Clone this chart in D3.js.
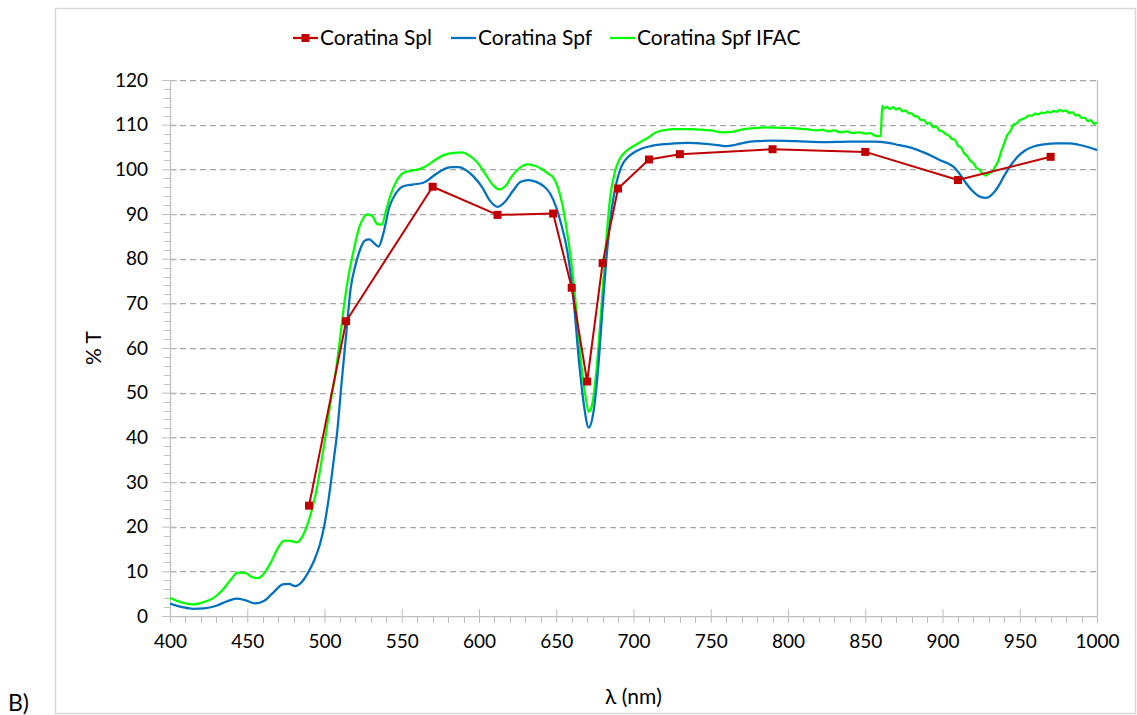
<!DOCTYPE html>
<html>
<head>
<meta charset="utf-8">
<script src="https://cdn.jsdelivr.net/npm/d3@7"></script>
<style>
  html, body { margin: 0; padding: 0; background: #fff; }
  svg { display: block; }
  text { font-family: Lato, "Open Sans", sans-serif; fill: #000; }
</style>
</head>
<body>
<svg id="chart" width="1137" height="715"></svg>
<script>
// Coratina Spl — discrete measurements
const splWavelength = [490, 514, 570, 612, 648, 660, 670, 680, 690, 710, 730, 790, 850, 910, 970];
const splT = [24.7, 66.0, 96.1, 89.8, 90.1, 73.5, 52.5, 79.0, 95.7, 102.2, 103.4, 104.5, 103.9, 97.6, 102.8];

// Coratina Spf — continuous spectrum
const spfWavelength = [400, 408, 415, 422, 430, 437, 443, 449, 455, 461, 467, 473, 477, 481, 485, 489, 493, 497, 500, 503,
  506, 508, 511, 514, 517, 520, 523, 526, 529, 532, 535, 538, 542, 546, 551, 557, 564, 570, 576, 582,
  587, 592, 597, 602, 607, 612, 617, 622, 627, 632, 637, 642, 646, 650, 653, 657, 661, 665, 668, 671,
  674, 677, 680, 683, 686, 689, 692, 696, 700, 705, 711, 718, 726, 735, 747, 755, 760, 766, 772, 780,
  790, 805, 823, 840, 855, 865, 872, 880, 887, 893, 898, 903, 907, 911, 915, 919, 923, 928, 933, 937,
  940, 944, 948, 953, 959, 966, 974, 982, 988, 994, 1000];
const spfT = [2.8, 2.0, 1.6, 1.7, 2.3, 3.3, 3.9, 3.5, 2.8, 3.4, 5.3, 7.1, 7.2, 6.7, 7.5, 9.5, 12.2, 16.0, 20.5, 27.0,
  35.0, 40.5, 52.0, 63.0, 73.5, 78.5, 82.0, 84.0, 84.3, 83.5, 82.7, 85.5, 91.6, 94.5, 96.2, 96.6, 97.0, 98.4, 99.8, 100.5,
  100.5, 99.7, 98.2, 96.0, 93.0, 91.6, 92.8, 95.2, 97.2, 97.6, 97.2, 96.2, 94.6, 91.5, 88.0, 82.0, 71.5, 56.0, 47.0, 42.2,
  45.5, 55.0, 69.0, 82.0, 91.5, 97.0, 100.5, 102.6, 103.7, 104.6, 105.2, 105.6, 105.8, 105.9, 105.7, 105.4, 105.2, 105.5, 106.0, 106.3,
  106.4, 106.3, 106.1, 106.2, 106.2, 105.9, 105.4, 104.8, 103.9, 103.0, 102.1, 101.4, 100.6, 99.0, 97.0, 95.3, 94.1, 93.6, 94.7, 96.7,
  98.6, 100.8, 102.6, 104.1, 105.1, 105.6, 105.8, 105.8, 105.5, 105.0, 104.3];

// Coratina Spf IFAC — continuous spectrum, noisy above 860 nm
const ifacWavelength = [400, 407, 415, 421, 428, 434, 439, 444, 449, 453, 457, 461, 466, 470, 474, 478, 482, 486, 489, 492,
  495, 498, 501, 504, 507, 510, 513, 516, 519, 522, 525, 528, 531, 534, 537, 540, 543, 547, 551, 556,
  562, 567, 572, 578, 584, 589, 594, 599, 604, 609, 613, 617, 621, 626, 631, 636, 640, 645, 648, 651,
  654, 657, 660, 663, 666, 669, 671, 673, 676, 679, 682, 685, 688, 691, 695, 699, 704, 709, 714, 720,
  727, 735, 742, 750, 758, 764, 770, 778, 786, 795, 804, 812, 818, 822, 826, 830, 834, 838, 842, 846,
  850, 853, 856, 858, 860,
  861, 862, 864, 866, 868, 870, 872, 874, 876, 878, 880, 882, 884, 886, 888, 890, 892, 894, 896, 898,
  900, 902, 904, 906, 908, 910, 912, 914, 916, 918, 920, 922, 924, 926, 928, 930, 932, 934, 936, 938,
  940, 942, 944, 946, 948, 950, 952, 954, 956, 958, 960, 962, 964, 966, 968, 970, 972, 974, 976, 978,
  980, 982, 984, 986, 988, 990, 992, 994, 996, 998, 1000];
const ifacT = [4.0, 3.1, 2.6, 3.0, 4.0, 5.8, 8.0, 9.7, 9.6, 8.7, 8.5, 9.6, 12.5, 15.3, 16.9, 16.8, 16.5, 18.0, 20.5, 24.0,
  28.5, 34.5, 41.0, 48.0, 54.0, 62.0, 70.5, 77.0, 82.0, 86.5, 89.0, 89.9, 89.5, 87.8, 87.6, 91.0, 94.5, 97.6, 99.2, 99.7,
  100.1, 101.0, 102.2, 103.3, 103.7, 103.8, 103.0, 101.5, 99.0, 96.5, 95.5, 96.2, 98.3, 100.2, 101.1, 100.8, 100.2, 99.0, 98.2, 96.0,
  92.0, 86.0, 78.5, 68.5, 57.0, 49.0, 45.7, 47.0, 55.0, 68.0, 82.5, 94.0, 99.5, 102.3, 104.0, 105.0, 106.0, 107.0, 108.2, 108.8,
  109.0, 109.0, 108.9, 108.7, 108.3, 108.4, 108.9, 109.2, 109.4, 109.3, 109.2, 109.0, 108.7, 108.9, 108.5, 108.7, 108.3, 108.5, 108.1, 108.3,
  108.0, 108.1, 107.6, 107.4, 107.5,
  114.2, 113.6, 114.0, 113.5, 113.9, 113.4, 113.7, 113.0, 113.2, 112.6, 112.5, 111.9, 111.8, 111.0, 111.1, 110.2, 110.4, 109.4, 109.6, 108.7,
  108.5, 107.9, 107.6, 106.8, 106.6, 105.3, 104.9, 103.6, 103.0, 101.9, 101.4, 100.3, 99.9, 99.0, 98.6, 99.1, 99.4, 100.6, 101.8, 104.0,
  105.9, 107.7, 108.6, 110.0, 110.3, 111.0, 111.3, 111.6, 112.1, 112.0, 112.5, 112.3, 112.7, 112.6, 112.9, 112.7, 113.1, 112.9, 113.3, 113.0,
  113.2, 112.6, 112.8, 112.1, 112.2, 111.5, 111.6, 110.8, 111.0, 110.2, 110.5];

const seriesNames = ["Coratina Spl", "Coratina Spf", "Coratina Spf IFAC"];
const xTicks = [400, 450, 500, 550, 600, 650, 700, 750, 800, 850, 900, 950, 1000];
const yTicks = [0, 10, 20, 30, 40, 50, 60, 70, 80, 90, 100, 110, 120];

const colors = { spl: "#c00000", spf: "#0070c0", ifac: "#00ff00" };

const svg = d3.select("#chart");
const plot = { left: 170, right: 1097, top: 80, bottom: 616 };

// outer chart frame
svg.append("rect")
  .attr("x", 55.5).attr("y", 8.5)
  .attr("width", 1080).attr("height", 705)
  .attr("fill", "none").attr("stroke", "#d9d9d9").attr("stroke-width", 1.5);

const x = d3.scaleLinear().domain([400, 1000]).range([plot.left, plot.right]);
const y = d3.scaleLinear().domain([0, 120]).range([plot.bottom, plot.top]);

// horizontal dashed gridlines
svg.append("g").selectAll("line")
  .data(yTicks.filter(d => d > 0))
  .join("line")
  .attr("x1", plot.left).attr("x2", plot.right)
  .attr("y1", d => Math.round(y(d)) + 0.5).attr("y2", d => Math.round(y(d)) + 0.5)
  .attr("stroke", "#a6a6a6").attr("stroke-width", 1.25)
  .attr("stroke-dasharray", "6,4");

// right border of plot area
svg.append("line")
  .attr("x1", plot.right + 0.5).attr("x2", plot.right + 0.5)
  .attr("y1", plot.top).attr("y2", plot.bottom)
  .attr("stroke", "#bfbfbf").attr("stroke-width", 1.25);

// minor ticks
const axisColor = "#bfbfbf";
const yMinor = d3.range(0, 121, 2).filter(v => v % 10 !== 0);
svg.append("g").selectAll("line").data(yMinor).join("line")
  .attr("x1", plot.left - 6).attr("x2", plot.left)
  .attr("y1", d => Math.round(y(d)) + 0.5).attr("y2", d => Math.round(y(d)) + 0.5)
  .attr("stroke", axisColor).attr("stroke-width", 1);
const xMinor = d3.range(400, 1001, 10).filter(v => v % 50 !== 0);
svg.append("g").selectAll("line").data(xMinor).join("line")
  .attr("x1", d => Math.round(x(d)) + 0.5).attr("x2", d => Math.round(x(d)) + 0.5)
  .attr("y1", plot.bottom).attr("y2", plot.bottom + 7)
  .attr("stroke", axisColor).attr("stroke-width", 1);

// y axis
const yAxis = svg.append("g")
  .attr("transform", `translate(${plot.left},0)`)
  .call(d3.axisLeft(y).tickValues(yTicks).tickSizeInner(8).tickSizeOuter(0).tickPadding(14));
yAxis.select(".domain").attr("stroke", axisColor).attr("stroke-width", 1.25);
yAxis.selectAll(".tick line").attr("stroke", axisColor).attr("x2", 7).attr("x1", -8);
yAxis.selectAll(".tick text").attr("font-size", 19).attr("font-family", "Lato, sans-serif").attr("fill", "#000");

// x axis
const xAxis = svg.append("g")
  .attr("transform", `translate(0,${plot.bottom})`)
  .call(d3.axisBottom(x).tickValues(xTicks).tickFormat(d3.format("d")).tickSizeInner(7).tickSizeOuter(0).tickPadding(12));
xAxis.select(".domain").attr("stroke", axisColor).attr("stroke-width", 1.25);
xAxis.selectAll(".tick line").attr("stroke", axisColor).attr("y1", -7).attr("y2", 7);
xAxis.selectAll(".tick text").attr("font-size", 19).attr("font-family", "Lato, sans-serif").attr("fill", "#000");

// axis titles
svg.append("text")
  .attr("transform", `translate(101,${(plot.top + plot.bottom) / 2}) rotate(-90)`)
  .attr("text-anchor", "middle")
  .attr("font-size", 21)
  .text("% T");
svg.append("text")
  .attr("x", (plot.left + plot.right) / 2).attr("y", 704)
  .attr("text-anchor", "middle")
  .attr("font-size", 21)
  .text("λ (nm)");

// panel label
svg.append("text")
  .attr("x", 8).attr("y", 711)
  .attr("font-family", "Liberation Sans, Arial, sans-serif")
  .attr("font-size", 23)
  .text("B)");

// curves
const smooth = d3.line().x(d => x(d[0])).y(d => y(d[1])).curve(d3.curveMonotoneX);
const straight = d3.line().x(d => x(d[0])).y(d => y(d[1]));

const spfData = d3.zip(spfWavelength, spfT);
const ifacData = d3.zip(ifacWavelength, ifacT);
const splData = d3.zip(splWavelength, splT);

svg.append("clipPath").attr("id", "plotClip").append("rect")
  .attr("x", plot.left).attr("y", plot.top - 10)
  .attr("width", plot.right - plot.left + 2).attr("height", plot.bottom - plot.top + 10);

const curves = svg.append("g").attr("clip-path", "url(#plotClip)");

curves.append("path").datum(ifacData)
  .attr("d", smooth).attr("fill", "none")
  .attr("stroke", colors.ifac).attr("stroke-width", 2.25).attr("stroke-linejoin", "round");

curves.append("path").datum(spfData)
  .attr("d", smooth).attr("fill", "none")
  .attr("stroke", colors.spf).attr("stroke-width", 2.25).attr("stroke-linejoin", "round");

svg.append("path").datum(splData)
  .attr("d", straight).attr("fill", "none")
  .attr("stroke", colors.spl).attr("stroke-width", 2).attr("stroke-linejoin", "round");

svg.append("g").selectAll("rect").data(splData).join("rect")
  .attr("x", d => x(d[0]) - 4).attr("y", d => y(d[1]) - 4)
  .attr("width", 8).attr("height", 8)
  .attr("fill", colors.spl);

// legend
const legendY = 38;
const legendItems = [
  { name: seriesNames[0], color: colors.spl, x0: 293, marker: true },
  { name: seriesNames[1], color: colors.spf, x0: 451, marker: false },
  { name: seriesNames[2], color: colors.ifac, x0: 610, marker: false }
];
const lg = svg.append("g").selectAll("g").data(legendItems).join("g");
lg.append("line")
  .attr("x1", d => d.x0).attr("x2", d => d.x0 + 25)
  .attr("y1", legendY).attr("y2", legendY)
  .attr("stroke", d => d.color).attr("stroke-width", 2.25);
lg.filter(d => d.marker).append("rect")
  .attr("x", d => d.x0 + 12.5 - 4).attr("y", legendY - 4)
  .attr("width", 8).attr("height", 8).attr("fill", d => d.color);
lg.append("text")
  .attr("x", d => d.x0 + 27).attr("y", legendY + 7)
  .attr("font-size", 21)
  .text(d => d.name);
</script>
</body>
</html>
